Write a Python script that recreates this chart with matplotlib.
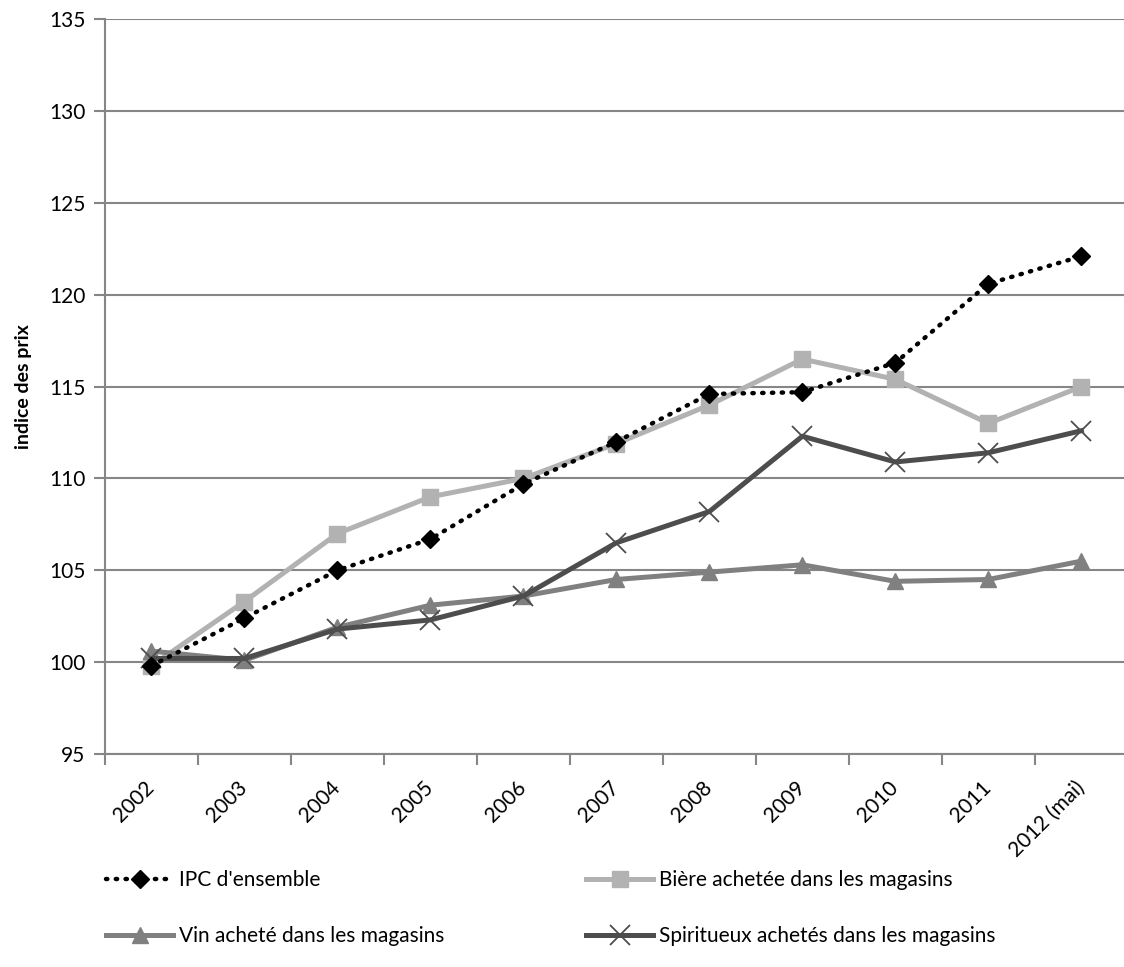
import matplotlib
matplotlib.use("Agg")
import matplotlib.pyplot as plt
from matplotlib.lines import Line2D

plt.rcParams['font.family'] = ['Lato', 'DejaVu Sans']

years = ["2002", "2003", "2004", "2005", "2006", "2007", "2008", "2009",
         "2010", "2011", "2012 (mai)"]
ipc = [99.8, 102.4, 105.0, 106.7, 109.7, 112.0, 114.6, 114.7, 116.3, 120.6, 122.1]
biere = [99.8, 103.3, 107.0, 109.0, 110.0, 111.9, 114.0, 116.5, 115.4, 113.0, 115.0]
vin = [100.6, 100.1, 101.9, 103.1, 103.6, 104.5, 104.9, 105.3, 104.4, 104.5, 105.5]
spiritueux = [100.2, 100.2, 101.8, 102.3, 103.6, 106.5, 108.2, 112.3, 110.9, 111.4, 112.6]

label_ipc = "IPC d'ensemble"
label_biere = "Bière achetée dans les magasins"
label_vin = "Vin acheté dans les magasins"
label_spir = "Spiritueux achetés dans les magasins"

fig = plt.figure(figsize=(11.24, 9.67), dpi=100)
ax = fig.add_axes([0.0934, 0.2203, 0.910, 0.7597])

x = list(range(len(years)))
grid_c = "#868686"

style_ipc = dict(color="black", lw=3.2, ls=(0, (0.3, 1.9)), dash_capstyle="round",
                 marker="D", ms=9, mec="black")
style_biere = dict(color="#b2b2b2", lw=3.6, marker="s", ms=12, mec="#b2b2b2")
style_vin = dict(color="#808080", lw=3.6, marker="^", ms=12, mec="#808080")
style_spir = dict(color="#4d4d4d", lw=3.6, marker="x", ms=14, mew=1.3)

ax.plot(x, biere, zorder=3, **style_biere)
ax.plot(x, vin, zorder=4, **style_vin)
ax.plot(x, spiritueux, zorder=5, **style_spir)
ax.plot(x, ipc, zorder=6, **style_ipc)

ax.set_xlim(-0.5, len(years) - 0.5)
ax.set_ylim(95, 135)
ax.set_yticks(range(95, 136, 5))
ax.yaxis.grid(True, color=grid_c, lw=1.5)
ax.set_axisbelow(True)

ax.set_xticks([i - 0.5 for i in range(len(years))] + [len(years) - 0.5])
ax.set_xticklabels([])
ax.set_xticks(x, minor=True)
ax.set_xticklabels(years, minor=True, rotation=45, ha="right", va="center",
                   rotation_mode="anchor", fontsize=15)
ax.tick_params(axis="x", which="minor", length=0, pad=22)
ax.tick_params(axis="x", which="major", length=8, width=1.5, color=grid_c, direction="out")
ax.tick_params(axis="y", length=8, width=1.5, color=grid_c, direction="out", labelsize=15, pad=6)

for s in ["top", "right"]:
    ax.spines[s].set_visible(False)
for s in ["left", "bottom"]:
    ax.spines[s].set_color(grid_c)
    ax.spines[s].set_linewidth(1.5)

ax.set_ylabel("indice des prix", fontsize=14, fontweight="bold", labelpad=12)

# legend filled column by column: IPC/Vin on the left, Bière/Spiritueux on the right
handles = [Line2D([], [], **style_ipc), Line2D([], [], **style_vin),
           Line2D([], [], **style_biere), Line2D([], [], **style_spir)]
labels = [label_ipc, label_vin, label_biere, label_spir]
fig.legend(handles, labels, loc="lower left", bbox_to_anchor=(0.078, 0.002),
           ncol=2, frameon=False, fontsize=15, handlelength=3.2, handletextpad=0.3,
           columnspacing=6.8, labelspacing=1.75)

fig.savefig("out.png", dpi=100)
